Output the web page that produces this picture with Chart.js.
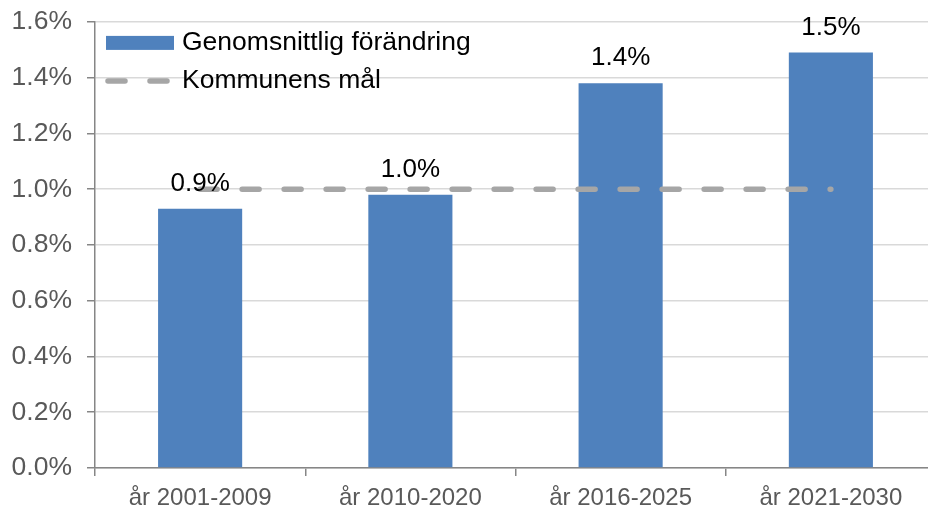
<!DOCTYPE html>
<html>
<head>
<meta charset="utf-8">
<script src="https://cdn.jsdelivr.net/npm/chart.js@4"></script>
<style>
  html, body { margin: 0; padding: 0; background: #fff; overflow: hidden; }
  #wrap { width: 936px; height: 517px; margin-top: -9px; }
</style>
</head>
<body>
<div id="wrap"><canvas id="chart"></canvas></div>
<script>
const categories = ['år 2001-2009', 'år 2010-2020', 'år 2016-2025', 'år 2021-2030'];
const changeValues = [0.93, 0.98, 1.38, 1.49];
const changeLabels = ['0.9%', '1.0%', '1.4%', '1.5%'];
const goalValues = [1.0, 1.0, 1.0, 1.0];
const seriesNames = ['Genomsnittlig förändring', 'Kommunens mål'];

const FONT = 'Arial, "Liberation Sans", sans-serif';
const BAR_COLOR = '#4F81BD';
const GOAL_COLOR = '#A6A6A6';
const AXIS_COLOR = '#868686';
const DASH = [17, 25];

// value labels above the bars
const barLabels = {
  id: 'barLabels',
  afterDatasetsDraw(chart) {
    const ctx = chart.ctx;
    const meta = chart.getDatasetMeta(0);
    ctx.save();
    ctx.font = '26px ' + FONT;
    ctx.fillStyle = '#000';
    ctx.textAlign = 'center';
    ctx.textBaseline = 'middle';
    meta.data.forEach((bar, i) => {
      ctx.fillText(changeLabels[i], bar.x, bar.y - 25);
    });
    ctx.restore();
  }
};

// legend drawn inside the plot, top left
const innerLegend = {
  id: 'innerLegend',
  afterDraw(chart) {
    const ctx = chart.ctx;
    const area = chart.chartArea;
    const x = area.left + 11;
    const y1 = area.top + 21;
    const y2 = area.top + 59;
    ctx.save();
    ctx.fillStyle = BAR_COLOR;
    ctx.fillRect(x, y1 - 7, 68, 14);

    ctx.strokeStyle = GOAL_COLOR;
    ctx.lineWidth = 5.5;
    ctx.lineCap = 'round';
    ctx.setLineDash(DASH);
    ctx.beginPath();
    ctx.moveTo(x + 2, y2);
    ctx.lineTo(x + 65, y2);
    ctx.stroke();
    ctx.setLineDash([]);

    ctx.font = '26.5px ' + FONT;
    ctx.fillStyle = '#000';
    ctx.textAlign = 'left';
    ctx.textBaseline = 'middle';
    ctx.fillText(seriesNames[0], x + 76, y1);
    ctx.fillText(seriesNames[1], x + 76, y2);
    ctx.restore();
  }
};

new Chart(document.getElementById('chart'), {
  data: {
    labels: categories,
    datasets: [
      {
        type: 'bar',
        label: seriesNames[0],
        data: changeValues,
        backgroundColor: BAR_COLOR,
        barPercentage: 0.4,
        categoryPercentage: 1,
        order: 1
      },
      {
        type: 'line',
        label: seriesNames[1],
        data: goalValues,
        borderColor: GOAL_COLOR,
        borderWidth: 5.5,
        borderDash: DASH,
        borderCapStyle: 'round',
        pointRadius: 0,
        fill: false,
        order: 0
      }
    ]
  },
  options: {
    responsive: true,
    maintainAspectRatio: false,
    animation: false,
    layout: { padding: { top: 15, right: 0, bottom: 0, left: 0 } },
    plugins: {
      legend: { display: false },
      tooltip: { enabled: false }
    },
    scales: {
      x: {
        offset: true,
        grid: {
          offset: true,
          drawOnChartArea: false,
          tickLength: 8,
          tickColor: AXIS_COLOR,
          lineWidth: 1.5
        },
        border: { color: AXIS_COLOR, width: 1.5 },
        ticks: {
          color: '#595959',
          font: { family: FONT, size: 24 },
          padding: 8,
          maxRotation: 0
        },
        afterFit(scale) { scale.height = 40; }
      },
      y: {
        min: 0,
        max: 1.6,
        grid: {
          color: '#D9D9D9',
          lineWidth: 1.5,
          tickLength: 8,
          tickColor: AXIS_COLOR
        },
        border: { color: AXIS_COLOR, width: 1.5 },
        ticks: {
          stepSize: 0.2,
          color: '#595959',
          font: { family: FONT, size: 26.5 },
          padding: 15,
          callback: v => v.toFixed(1) + '%'
        },
        afterFit(scale) { scale.width = 95; }
      }
    }
  },
  plugins: [barLabels, innerLegend]
});
</script>
</body>
</html>
